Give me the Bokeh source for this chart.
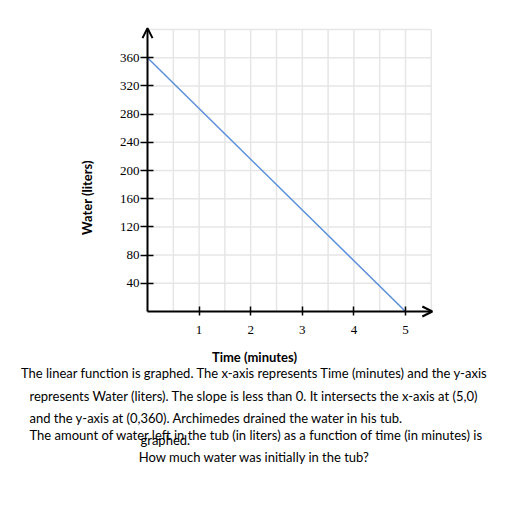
import math
from bokeh.plotting import figure
from bokeh.models import FixedTicker, Arrow, OpenHead, Label, Range1d
from bokeh.embed import file_html
from bokeh.resources import INLINE

# data
time_min = [0, 5]
water_l = [360, 0]
x_ticks = [1, 2, 3, 4, 5]
y_ticks = [40, 80, 120, 160, 200, 240, 280, 320, 360]
x_grid = [0.5, 1, 1.5, 2, 2.5, 3, 3.5, 4, 4.5, 5, 5.5]
y_grid = [40, 80, 120, 160, 200, 240, 280, 320, 360, 400]
x_label = "Time (minutes)"
y_label = "Water (liters)"
body_lines = [
    "The linear function is graphed. The x-axis represents Time (minutes) and the y-axis",
    "represents Water (liters). The slope is less than 0. It intersects the x-axis at (5,0)",
    "and the y-axis at (0,360). Archimedes drained the water in his tub.",
    "The amount of water left in the tub (in liters) as a function of time (in minutes) is",
    "graphed.",
    "How much water was initially in the tub?",
]

# layout (pixels): the frame covers the whole canvas
W, H = 500, 475
ORIGIN_X_PX, ORIGIN_Y_PX = 147, 311
PX_PER_X, PX_PER_Y = 51.6, 0.705

p = figure(width=W, height=H, output_backend="svg", toolbar_location=None, title=None,
           x_range=Range1d(-ORIGIN_X_PX / PX_PER_X, (W - ORIGIN_X_PX) / PX_PER_X),
           y_range=Range1d(-(H - ORIGIN_Y_PX) / PX_PER_Y, ORIGIN_Y_PX / PX_PER_Y),
           min_border=0)
p.outline_line_color = None
p.grid.visible = False

# grid lines
n_x = len(x_grid)
n_y = len(y_grid)
p.segment(x0=x_grid, y0=[0] * n_x, x1=x_grid, y1=[y_grid[-1]] * n_x,
          line_color="#e6e6e6", line_width=1.5)
p.segment(x0=[0] * n_y, y0=y_grid, x1=[x_grid[-1]] * n_y, y1=y_grid,
          line_color="#e6e6e6", line_width=1.5)

for ax, ticks in ((p.xaxis, x_ticks), (p.yaxis, y_ticks)):
    ax.ticker = FixedTicker(ticks=ticks)
    ax.fixed_location = 0
    ax.axis_line_color = None
    ax.major_tick_line_color = "black"
    ax.major_tick_line_width = 1.5
    ax.minor_tick_line_color = None
    ax.major_label_text_font = "Liberation Serif"
    ax.major_label_text_font_size = "13px"
    ax.major_label_text_color = "black"

p.xaxis.major_tick_in = 5
p.xaxis.major_tick_out = 4
p.xaxis.major_label_standoff = 10
p.yaxis.major_tick_in = 6
p.yaxis.major_tick_out = 7
p.yaxis.major_label_standoff = 1

p.add_layout(Arrow(x_start=0, y_start=0, x_end=5.52, y_end=0, line_color="black", line_width=2,
                   end=OpenHead(size=10, line_width=2, line_color="black")))
p.add_layout(Arrow(x_start=0, y_start=0, x_end=0, y_end=402, line_color="black", line_width=2,
                   end=OpenHead(size=10, line_width=2, line_color="black")))

p.line(time_min, water_l, line_color="#5b8fdb", line_width=1.5)

# axis titles
p.add_layout(Label(x=86, y=H - 197, x_units="screen", y_units="screen", text=y_label,
                   angle=math.pi / 2, text_font="Lato", text_font_style="bold",
                   text_font_size="13px", text_color="black",
                   text_align="center", text_baseline="middle"))
p.add_layout(Label(x=254, y=H - 356, x_units="screen", y_units="screen", text=x_label,
                   text_font="Lato", text_font_style="bold",
                   text_font_size="13px", text_color="black",
                   text_align="center", text_baseline="middle"))

# question text (screen units: from the bottom-left of the canvas)
pos = [(254, H - 372, "center"), (29, H - 395, "left"), (29, H - 417, "left"),
       (29, H - 434, "left"), (140, H - 439, "left"), (254, H - 456, "center")]
for (x, y, al), s in zip(pos, body_lines):
    p.add_layout(Label(x=x, y=y, x_units="screen", y_units="screen", text=s,
                       text_font="Lato", text_font_size="13px", text_color="black",
                       text_align=al, text_baseline="middle"))

open("out.html", "w").write(file_html(p, INLINE))
